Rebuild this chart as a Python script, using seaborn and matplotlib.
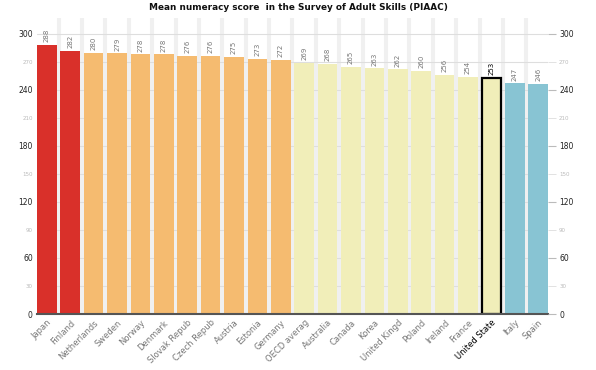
import matplotlib
matplotlib.use("Agg")
import matplotlib.pyplot as plt
import seaborn as sns
import pandas as pd
import numpy as np

countries = ["Japan", "Finland", "Netherlands", "Sweden", "Norway", "Denmark",
             "Slovak Repub", "Czech Repub", "Austria", "Estonia", "Germany",
             "OECD averag", "Australia", "Canada", "Korea", "United Kingd",
             "Poland", "Ireland", "France", "United State", "Italy", "Spain"]
scores = [288, 282, 280, 279, 278, 278, 276, 276, 275, 273, 272,
          269, 268, 265, 263, 262, 260, 256, 254, 253, 247, 246]
groups = ["top"] * 2 + ["high"] * 9 + ["mid"] * 9 + ["low"] * 2
group_colors = {"top": "#d9302a", "high": "#f5bb70", "mid": "#f1eeb9", "low": "#88c4d3"}
highlight = "United State"
major_ticks = [0, 60, 120, 180, 240, 300]
minor_ticks = [30, 90, 150, 210, 270]
title = "Mean numeracy score  in the Survey of Adult Skills (PIAAC)"

df = pd.DataFrame({"country": countries, "score": scores, "group": groups})

sns.set_style("white")
plt.rcParams["font.family"] = ["DejaVu Sans"]

fig = plt.figure(figsize=(5.96, 3.70), dpi=100)
ax = fig.add_axes([37 / 596, 56 / 370, 511 / 596, 296 / 370])

palette = [group_colors[g] for g in groups]
sns.barplot(data=df, x="country", y="score", hue="country", palette=palette,
            legend=False, width=0.84, saturation=1, ax=ax)

ax.set_xlim(-0.42, len(countries) - 0.58)
ax.set_ylim(0, 317)

# background bands and grid (below bars)
for i in range(len(countries) - 1):
    ax.axvline(i + 0.5, color="#f0f0f0", lw=2.9, zorder=0.2)
for t in major_ticks + minor_ticks:
    ax.axhline(t, color="#dedede", lw=0.8, zorder=0.4)

for patch, c in zip(ax.patches, countries):
    patch.set_zorder(3)
    patch.set_linewidth(0)
    if c == highlight:
        patch.set_edgecolor("black")
        patch.set_linewidth(1.6)
        patch.set_zorder(4)

# value labels
for i, (c, v) in enumerate(zip(countries, scores)):
    ax.text(i, v + 3, str(v), rotation=90, ha="center", va="bottom",
            fontsize=5, color="black" if c == highlight else "#777777", zorder=5)

# x labels
ax.set_xlabel("")
ax.set_ylabel("")
ax.set_xticks(range(len(countries)))
ax.set_xticklabels(countries, rotation=45, ha="right", rotation_mode="anchor",
                   fontsize=6)
for lbl, c in zip(ax.get_xticklabels(), countries):
    lbl.set_color("black" if c == highlight else "#777777")
ax.tick_params(axis="x", length=0, pad=3)

# left y axis
ax.set_yticks(major_ticks)
ax.set_yticklabels([str(t) for t in major_ticks], fontsize=5.5, color="#222222")
ax.set_yticks(minor_ticks, minor=True)
ax.set_yticklabels([str(t) for t in minor_ticks], minor=True, fontsize=4, color="#bbbbbb")
ax.tick_params(axis="y", which="both", length=0, pad=3)

for s in ["top", "right", "left"]:
    ax.spines[s].set_visible(False)
ax.spines["bottom"].set_color("#555555")
ax.spines["bottom"].set_linewidth(1.5)
ax.spines["bottom"].set_zorder(6)

# right y axis
ax2 = ax.twinx()
ax2.set_ylim(ax.get_ylim())
ax2.set_yticks(major_ticks)
ax2.set_yticklabels([str(t) for t in major_ticks], fontsize=5.5, color="#222222")
ax2.set_yticks(minor_ticks, minor=True)
ax2.set_yticklabels([str(t) for t in minor_ticks], minor=True, fontsize=4, color="#bbbbbb")
ax2.tick_params(axis="y", which="major", length=6, width=0.8, color="#bbbbbb", pad=2)
ax2.tick_params(axis="y", which="minor", length=6, width=0.6, color="#dddddd", pad=2)
for s in ["top", "right", "left", "bottom"]:
    ax2.spines[s].set_visible(False)

fig.text(0.5, 1 - 7 / 370, title, ha="center", va="center", fontsize=6.4,
         fontweight="bold", color="#111111")

fig.savefig("out.png", dpi=100)
